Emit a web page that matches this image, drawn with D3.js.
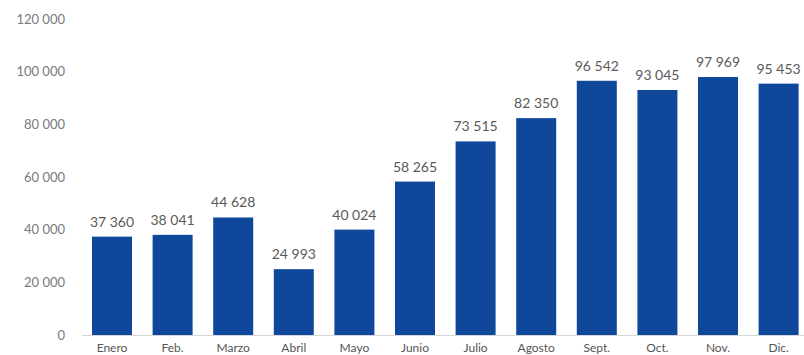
<!DOCTYPE html>
<html>
<head>
<meta charset="utf-8">
<script src="https://cdn.jsdelivr.net/npm/d3@7"></script>
<style>
  body { margin: 0; background: #fff; }
  svg { display: block; }
  text { font-family: Lato, "Open Sans", sans-serif; }
</style>
</head>
<body>
<svg id="chart" width="804" height="355"></svg>
<script>
const months = ["Enero","Feb.","Marzo","Abril","Mayo","Junio","Julio","Agosto","Sept.","Oct.","Nov.","Dic."];
const values = [37360, 38041, 44628, 24993, 40024, 58265, 73515, 82350, 96542, 93045, 97969, 95453];
const yTicks = [0, 20000, 40000, 60000, 80000, 100000, 120000];

const svg = d3.select("#chart");
const y0 = 335, y1 = 19;

const x = d3.scaleBand().domain(months).range([92, 798.6]).paddingInner(0.34).paddingOuter(0);
const y = d3.scaleLinear().domain([0, 120000]).range([y0, y1]);

const fmtSp = v => d3.format(",")(v).replace(/,/g, " ");

// baseline
svg.append("line")
  .attr("x1", 82).attr("x2", 804)
  .attr("y1", y0 + 0.5).attr("y2", y0 + 0.5)
  .attr("stroke", "#d6d6d6").attr("stroke-width", 1);

// y axis
const yAxis = d3.axisLeft(y).tickValues(yTicks).tickSize(0).tickPadding(0)
  .tickFormat(fmtSp);
const gy = svg.append("g").attr("transform", "translate(65,0)").call(yAxis);
gy.select(".domain").remove();
gy.selectAll("text")
  .attr("fill", "#7a7a7a")
  .style("font-size", "13px")
  .style("font-family", "Lato, sans-serif");

// bars
svg.append("g").selectAll("rect").data(values).join("rect")
  .attr("x", (d, i) => x(months[i]))
  .attr("width", x.bandwidth())
  .attr("y", d => y(d))
  .attr("height", d => y0 - y(d))
  .attr("fill", "#0f479b");

// value labels
svg.append("g").selectAll("text").data(values).join("text")
  .attr("x", (d, i) => x(months[i]) + x.bandwidth() / 2)
  .attr("y", d => y(d) - 10)
  .attr("text-anchor", "middle")
  .attr("fill", "#5a5a5a")
  .style("font-size", "14px")
  .text(d => fmtSp(d));

// x axis
const xAxis = d3.axisBottom(x).tickSize(0).tickPadding(0);
const gx = svg.append("g").attr("transform", `translate(0,${y0 + 8})`).call(xAxis);
gx.select(".domain").remove();
gx.selectAll("text")
  .attr("fill", "#555")
  .style("font-size", "12px")
  .style("font-family", "Lato, sans-serif");
</script>
</body>
</html>
